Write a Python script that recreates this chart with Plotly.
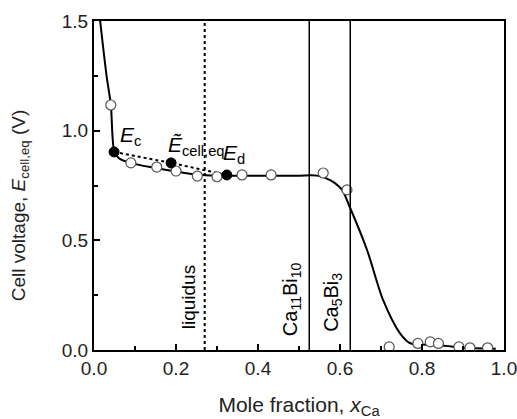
"""
Cell voltage vs Ca mole fraction (Ca-Bi), Plotly recreation
"""

import plotly.graph_objects as go

# solid curve through the titration data
curve_x = [0.015, 0.031, 0.041, 0.049, 0.06, 0.09, 0.15, 0.20, 0.25, 0.30, 0.40,
           0.50, 0.544, 0.576, 0.605, 0.622, 0.666, 0.705, 0.746, 0.77, 0.80,
           0.85, 0.90, 0.98]
curve_y = [1.50, 1.245, 1.12, 0.91, 0.875, 0.852, 0.83, 0.814, 0.80, 0.795, 0.795,
           0.795, 0.795, 0.775, 0.73, 0.66, 0.456, 0.228, 0.077, 0.032, 0.025,
           0.02, 0.01, 0.006]

# open circles: measured points
open_x = [0.041, 0.09, 0.153, 0.20, 0.252, 0.30, 0.361, 0.432, 0.559, 0.617,
          0.72, 0.79, 0.82, 0.84, 0.89, 0.917, 0.96]
open_y = [1.117, 0.853, 0.834, 0.816, 0.793, 0.79, 0.798, 0.798, 0.807, 0.73,
          0.014, 0.03, 0.037, 0.03, 0.014, 0.01, 0.01]

# filled circles: Ec, Ecell,eq, Ed (joined by dotted line)
filled_x = [0.049, 0.188, 0.324]
filled_y = [0.903, 0.853, 0.798]

# phase boundaries
liquidus_x = 0.27
ca11bi10_x = 0.525
ca5bi3_x = 0.625

font_name = "Liberation Sans, Arial, sans-serif"

fig = go.Figure()

fig.add_trace(go.Scatter(
    x=curve_x, y=curve_y, mode='lines',
    line=dict(color='black', width=2, shape='spline', smoothing=0.8),
    showlegend=False, hoverinfo='skip'
))

fig.add_trace(go.Scatter(
    x=filled_x, y=filled_y, mode='lines',
    line=dict(color='black', width=2, dash='dot'),
    showlegend=False
))

fig.add_trace(go.Scatter(
    x=open_x, y=open_y, mode='markers',
    marker=dict(size=10, color='white', line=dict(color='#555555', width=1.2)),
    showlegend=False
))

fig.add_trace(go.Scatter(
    x=filled_x, y=filled_y, mode='markers',
    marker=dict(size=10, color='black', line=dict(color='black', width=1)),
    showlegend=False
))

# vertical lines
fig.add_vline(x=liquidus_x, line=dict(color='black', width=2, dash='dot'))
fig.add_vline(x=ca11bi10_x, line=dict(color='black', width=1.5))
fig.add_vline(x=ca5bi3_x, line=dict(color='black', width=1.5))

ann_font = dict(family=font_name, size=21, color='black')
fig.add_annotation(x=0.058, y=0.975, text="<i>E</i><sub>c</sub>",
                   showarrow=False, xanchor='left', yanchor='middle', font=ann_font)
fig.add_annotation(x=0.175, y=0.93, text="<i>Ẽ</i><sub>cell,eq</sub>",
                   showarrow=False, xanchor='left', yanchor='middle', font=ann_font)
fig.add_annotation(x=0.31, y=0.895, text="<i>E</i><sub>d</sub>",
                   showarrow=False, xanchor='left', yanchor='middle', font=ann_font)

lab_font = dict(family=font_name, size=19, color='black')
fig.add_annotation(x=0.229, y=0.24, text="liquidus", textangle=-90,
                   showarrow=False, font=lab_font)
fig.add_annotation(x=0.482, y=0.23, text="Ca<sub>11</sub>Bi<sub>10</sub>", textangle=-90,
                   showarrow=False, font=dict(family=font_name, size=20, color='black'))
fig.add_annotation(x=0.583, y=0.215, text="Ca<sub>5</sub>Bi<sub>3</sub>", textangle=-90,
                   showarrow=False, font=dict(family=font_name, size=20, color='black'))

# y title as annotation to place it like the original
fig.add_annotation(xref='paper', yref='paper', x=0, y=0.44, xshift=-74,
                   text="Cell voltage, <i>E</i><sub>cell,eq</sub> (V)", textangle=-90,
                   showarrow=False, xanchor='center', yanchor='middle',
                   font=dict(family=font_name, size=19, color='#222222'))

axis_common = dict(
    showgrid=False, zeroline=False,
    showline=True, linecolor='black', linewidth=2, mirror=True,
    ticks='inside', ticklen=6, tickwidth=1.5, tickcolor='black',
    tickfont=dict(family=font_name, size=19, color='#222222'),
    tickformat='.1f', tick0=0,
)

fig.update_xaxes(
    range=[0, 1.0], dtick=0.2,
    minor=dict(dtick=0.1, ticks='inside', ticklen=4, tickcolor='black', tickwidth=1.5),
    title=dict(text="Mole fraction, <i>x</i><sub>Ca</sub>",
               font=dict(family=font_name, size=21, color='#222222'), standoff=20),
    ticklabeloverflow='allow',
    **axis_common
)
fig.update_yaxes(
    range=[0, 1.5], dtick=0.5,
    minor=dict(dtick=0.25, ticks='inside', ticklen=4, tickcolor='black', tickwidth=1.5),
    **axis_common
)

fig.update_layout(
    width=517, height=419,
    margin=dict(l=94, r=13, t=21, b=69, autoexpand=False),
    paper_bgcolor='white', plot_bgcolor='white',
    showlegend=False,
)

# drop the default page margin so the figure sits flush in the window
fig.write_html("out.html", config={'displayModeBar': False},
               post_script="document.body.style.margin='0';document.body.style.overflow='hidden';")
